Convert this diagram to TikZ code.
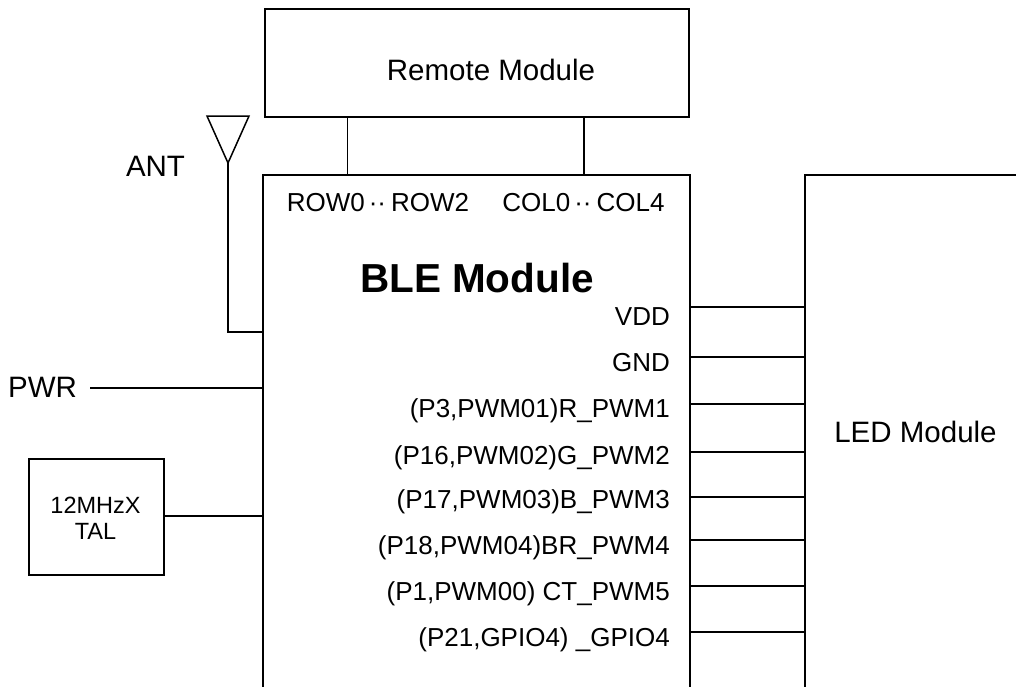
\documentclass[tikz,border=0pt]{standalone}
\usepackage{fontspec}
\setmainfont{Liberation Sans}
\begin{document}
\begin{tikzpicture}[x=1pt,y=-1pt,
  box/.style={draw,line width=1.6pt},
  wire/.style={line width=2.3pt},
  pinlbl/.style={font=\fontsize{26}{28}\selectfont, anchor=base east, inner sep=0pt},
  toplbl/.style={font=\fontsize{26}{28}\selectfont, inner sep=0pt},
  bigtxt/.style={font=\fontsize{29.5}{32}\selectfont, inner sep=0pt}]
\useasboundingbox (0,0) rectangle (1016,686);
% Remote module
\node[box, minimum width=424pt, minimum height=108pt, inner sep=0pt, anchor=north west] (remote) at (264,8) {};
\node[bigtxt] (remotet) at (491,70) {Remote Module};
% BLE module (open at bottom)
\coordinate (bleBL) at (263,692);
\coordinate (bleTL) at (263,175);
\coordinate (bleTR) at (690,175);
\coordinate (bleBR) at (690,692);
\draw[box] (bleBL) -- (bleTL) -- (bleTR) -- (bleBR);
\coordinate (rowpin) at (347.5,175);
\coordinate (colpin) at (584,175);
\draw[box] (remote.south -| rowpin) -- (rowpin);
\draw[box] (remote.south -| colpin) -- (colpin);
\node[toplbl] (rowt) at (378,203) {ROW0\kern4pt··\kern5pt ROW2};
\node[toplbl] (colt) at (583.5,203) {COL0\kern4pt··\kern5pt COL4};
\node[font=\bfseries\fontsize{40.5}{44}\selectfont, inner sep=0pt] (blet) at (477,278) {BLE Module};
% LED module (open at bottom and right)
\coordinate (ledBL) at (805,692);
\coordinate (ledTL) at (805,175);
\coordinate (ledTR) at (1020,175);
\draw[wire] (ledBL) -- (ledTL) -- (ledTR);
\node[bigtxt] (ledt) at (915.5,432) {LED Module};
% pins to LED
\foreach \y/\b/\txt [count=\i] in {307/325/VDD, 357/371/GND, 404/417/{(P3,PWM01)R\_PWM1}, 452/464/{(P16,PWM02)G\_PWM2}, 497/508/{(P17,PWM03)B\_PWM3}, 540/554/{(P18,PWM04)BR\_PWM4}, 586/600/{(P1,PWM00) CT\_PWM5}, 632/646/{(P21,GPIO4) \_GPIO4}} {
  \coordinate (bp\i) at (690,\y);
  \coordinate (lp\i) at (805,\y);
  \draw[wire] (bp\i) -- (lp\i);
  \node[pinlbl] (pl\i) at (670,\b) {\txt};
}
% antenna
\coordinate (antL) at (207,116);
\coordinate (antR) at (249,116);
\coordinate (antA) at (228,163);
\coordinate (antB) at (228,332);
\coordinate (antE) at (263,332);
\draw[line width=1.5pt, line join=miter] (antL) -- (antR) -- (antA) -- cycle;
\draw[wire] (antA) -- (antB) -- (antE);
\node[bigtxt] (antt) at (155.5,166) {ANT};
% PWR
\node[bigtxt] (pwrt) at (42.5,387) {PWR};
\coordinate (pwrS) at (90,388);
\coordinate (pwrE) at (263,388);
\draw[wire] (pwrS) -- (pwrE);
% crystal
\node[box, minimum width=135pt, minimum height=116pt, inner sep=0pt, anchor=north west] (xtal) at (28,458) {};
\node[font=\fontsize{23.5}{26}\selectfont, align=center, inner sep=0pt] (xtalt) at (95.5,518) {12MHzX\\TAL};
\coordinate (xtalE) at (263,516);
\draw[wire] (xtal.east |- xtalE) -- (xtalE);
\end{tikzpicture}
\end{document}
